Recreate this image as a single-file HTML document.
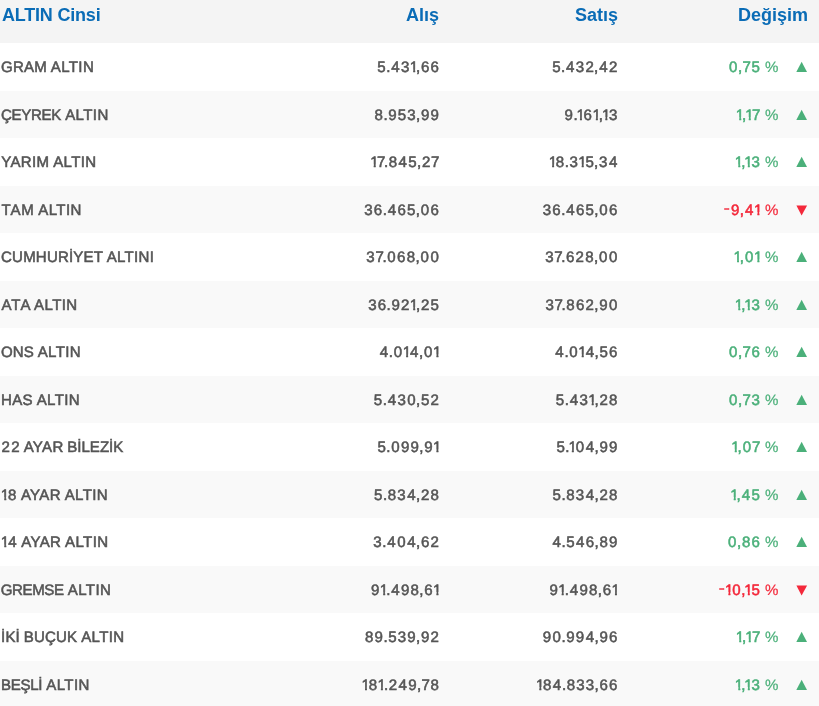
<!DOCTYPE html>
<html><head><meta charset="utf-8"><title>Altın Fiyatları</title><style>
html,body{margin:0;padding:0;}
body{will-change:transform;width:819px;height:706px;overflow:hidden;background:#fff;position:relative;font-family:"Liberation Sans",sans-serif;}
i,b{font-style:normal;font-weight:normal;}
.hd{position:absolute;left:0;top:0;width:819px;height:43px;background:#f4f4f4;color:#0a6cb6;font-size:18px;font-weight:bold;line-height:43px;}
.hd span{position:absolute;top:-6px;white-space:nowrap;}
.r{text-rendering:geometricPrecision;position:absolute;left:0;width:819px;height:47.5px;color:#555;-webkit-text-stroke:0.55px currentColor;font-size:15.05px;line-height:47.5px;background:#fff;}
.r.g{background:#f9f9f9;}
.r span{position:absolute;top:1px;white-space:nowrap;}
.c1{left:1px;}
.c1 b{display:inline-block;white-space:pre;}
.n{letter-spacing:1.2px;}
.d0{margin-left:0.16px;letter-spacing:1.36px;}
.d1{margin-left:-0.78px;letter-spacing:-1.25px;}
.d4{margin-left:0.28px;letter-spacing:1.34px;}
.d7{margin-left:-0.47px;letter-spacing:0.73px;}
.pt{margin-left:-0.68px;letter-spacing:0.57px;}
.cm{margin-left:-0.87px;letter-spacing:0.76px;}
.mn{margin-left:0.38px;letter-spacing:1.58px;}
.pc{margin-left:0.24px;letter-spacing:1.44px;}
.sp{margin-left:0.00px;letter-spacing:-0.40px;}
.d1k{margin-left:-1.73px;letter-spacing:-1.25px;}
.d7k{margin-left:-0.47px;letter-spacing:-0.72px;}
.d1,.d1k{display:inline-block;text-indent:0;clip-path:polygon(-3px 0,12px 0,12px 25.6px,5.44px 25.6px,5.44px 40px,3.48px 40px,3.48px 25.6px,-3px 25.6px);}
.mn{display:inline-block;text-indent:0;-webkit-text-stroke-width:0.4px;transform:translate(0.4px,-1.8px) scaleX(1.2);}
.pc{-webkit-text-stroke-width:0.2px;}
.c2{right:378.9px;}
.c3{right:200.4px;}
.c4{right:39.1px;}
.hd .c1{left:2px;letter-spacing:-0.2px;}
.hd .c2{right:380px;}
.hd .c3{right:201px;}
.hd .c4{right:11px;}
.r .c5{left:796px;top:0;width:12px;height:47.5px;}
.up{color:#4bb07a;}
.dn{color:#f4293b;}
.t{display:block;position:absolute;left:0;top:18px;fill:currentColor;}

</style></head><body>
<div class="hd"><span class="c1">ALTIN Cinsi</span><span class="c2">Alış</span><span class="c3">Satış</span><span class="c4">Değişim</span></div>
<div class="r" style="top:43.0px"><span class="c1"><b style="width:49.55px;letter-spacing:0.16px;text-indent:0.08px">GRAM </b><b style="letter-spacing:0.38px;text-indent:0.19px">ALTIN</b></span><span class="c2 n">5<i class="pt">.</i><i class="d4">4</i>3<i class="d1">1</i><i class="cm">,</i>66</span><span class="c3 n">5<i class="pt">.</i><i class="d4">4</i>32<i class="cm">,</i><i class="d4">4</i>2</span><span class="c4 n up"><i class="d0">0</i><i class="cm">,</i><i class="d7">7</i>5<i class="sp"> </i><i class="pc">%</i></span><span class="c5 up"><svg class="t" width="12" height="12" viewBox="0 0 12 12"><path d="M0.3 11 L11 11 L5.65 0.8 Z"/></svg></span></div>
<div class="r g" style="top:90.5px"><span class="c1"><b style="width:64.02px;letter-spacing:-0.27px;text-indent:-0.14px">ÇEYREK </b><b style="letter-spacing:0.38px;text-indent:0.19px">ALTIN</b></span><span class="c2 n">8<i class="pt">.</i>953<i class="cm">,</i>99</span><span class="c3 n">9<i class="pt">.</i><i class="d1k">1</i>6<i class="d1">1</i><i class="cm">,</i><i class="d1k">1</i>3</span><span class="c4 n up"><i class="d1">1</i><i class="cm">,</i><i class="d1k">1</i><i class="d7">7</i><i class="sp"> </i><i class="pc">%</i></span><span class="c5 up"><svg class="t" width="12" height="12" viewBox="0 0 12 12"><path d="M0.3 11 L11 11 L5.65 0.8 Z"/></svg></span></div>
<div class="r" style="top:138.0px"><span class="c1"><b style="width:52.00px;letter-spacing:0.34px;text-indent:0.17px">YARIM </b><b style="letter-spacing:0.38px;text-indent:0.19px">ALTIN</b></span><span class="c2 n"><i class="d1">1</i><i class="d7k">7</i><i class="pt">.</i>8<i class="d4">4</i>5<i class="cm">,</i>2<i class="d7">7</i></span><span class="c3 n"><i class="d1">1</i>8<i class="pt">.</i>3<i class="d1">1</i>5<i class="cm">,</i>3<i class="d4">4</i></span><span class="c4 n up"><i class="d1">1</i><i class="cm">,</i><i class="d1k">1</i>3<i class="sp"> </i><i class="pc">%</i></span><span class="c5 up"><svg class="t" width="12" height="12" viewBox="0 0 12 12"><path d="M0.3 11 L11 11 L5.65 0.8 Z"/></svg></span></div>
<div class="r g" style="top:185.5px"><span class="c1"><b style="width:37.11px;letter-spacing:0.90px;text-indent:0.45px">TAM </b><b style="letter-spacing:0.38px;text-indent:0.19px">ALTIN</b></span><span class="c2 n">36<i class="pt">.</i><i class="d4">4</i>65<i class="cm">,</i><i class="d0">0</i>6</span><span class="c3 n">36<i class="pt">.</i><i class="d4">4</i>65<i class="cm">,</i><i class="d0">0</i>6</span><span class="c4 n dn"><i class="mn">-</i>9<i class="cm">,</i><i class="d4">4</i><i class="d1">1</i><i class="sp"> </i><i class="pc">%</i></span><span class="c5 dn"><svg class="t" width="12" height="12" viewBox="0 0 12 12"><path d="M0.4 1.5 L11.1 1.5 L5.6 11.5 Z"/></svg></span></div>
<div class="r" style="top:233.0px"><span class="c1"><b style="width:105.55px;letter-spacing:0.17px;text-indent:0.09px">CUMHURİYET </b><b style="letter-spacing:0.31px;text-indent:0.16px">ALTINI</b></span><span class="c2 n">3<i class="d7k">7</i><i class="pt">.</i><i class="d0">0</i>68<i class="cm">,</i><i class="d0">0</i><i class="d0">0</i></span><span class="c3 n">3<i class="d7k">7</i><i class="pt">.</i>628<i class="cm">,</i><i class="d0">0</i><i class="d0">0</i></span><span class="c4 n up"><i class="d1">1</i><i class="cm">,</i><i class="d0">0</i><i class="d1">1</i><i class="sp"> </i><i class="pc">%</i></span><span class="c5 up"><svg class="t" width="12" height="12" viewBox="0 0 12 12"><path d="M0.3 11 L11 11 L5.65 0.8 Z"/></svg></span></div>
<div class="r g" style="top:280.5px"><span class="c1"><b style="width:32.88px;letter-spacing:0.97px;text-indent:0.48px">ATA </b><b style="letter-spacing:0.39px;text-indent:0.19px">ALTIN</b></span><span class="c2 n">36<i class="pt">.</i>92<i class="d1">1</i><i class="cm">,</i>25</span><span class="c3 n">3<i class="d7k">7</i><i class="pt">.</i>862<i class="cm">,</i>9<i class="d0">0</i></span><span class="c4 n up"><i class="d1">1</i><i class="cm">,</i><i class="d1k">1</i>3<i class="sp"> </i><i class="pc">%</i></span><span class="c5 up"><svg class="t" width="12" height="12" viewBox="0 0 12 12"><path d="M0.3 11 L11 11 L5.65 0.8 Z"/></svg></span></div>
<div class="r" style="top:328.0px"><span class="c1"><b style="width:36.44px;letter-spacing:0.03px;text-indent:0.01px">ONS </b><b style="letter-spacing:0.39px;text-indent:0.19px">ALTIN</b></span><span class="c2 n"><i class="d4">4</i><i class="pt">.</i><i class="d0">0</i><i class="d1">1</i><i class="d4">4</i><i class="cm">,</i><i class="d0">0</i><i class="d1">1</i></span><span class="c3 n"><i class="d4">4</i><i class="pt">.</i><i class="d0">0</i><i class="d1">1</i><i class="d4">4</i><i class="cm">,</i>56</span><span class="c4 n up"><i class="d0">0</i><i class="cm">,</i><i class="d7">7</i>6<i class="sp"> </i><i class="pc">%</i></span><span class="c5 up"><svg class="t" width="12" height="12" viewBox="0 0 12 12"><path d="M0.3 11 L11 11 L5.65 0.8 Z"/></svg></span></div>
<div class="r g" style="top:375.5px"><span class="c1"><b style="width:35.47px;letter-spacing:0.25px;text-indent:0.12px">HAS </b><b style="letter-spacing:0.38px;text-indent:0.19px">ALTIN</b></span><span class="c2 n">5<i class="pt">.</i><i class="d4">4</i>3<i class="d0">0</i><i class="cm">,</i>52</span><span class="c3 n">5<i class="pt">.</i><i class="d4">4</i>3<i class="d1">1</i><i class="cm">,</i>28</span><span class="c4 n up"><i class="d0">0</i><i class="cm">,</i><i class="d7">7</i>3<i class="sp"> </i><i class="pc">%</i></span><span class="c5 up"><svg class="t" width="12" height="12" viewBox="0 0 12 12"><path d="M0.3 11 L11 11 L5.65 0.8 Z"/></svg></span></div>
<div class="r" style="top:423.0px"><span class="c1"><b style="width:22.47px;text-indent:0.60px"><i class="n">22</i> </b><b style="width:43.77px;letter-spacing:0.31px;text-indent:0.16px">AYAR </b><b style="letter-spacing:0.01px;text-indent:0.00px">BİLEZİK</b></span><span class="c2 n">5<i class="pt">.</i><i class="d0">0</i>99<i class="cm">,</i>9<i class="d1">1</i></span><span class="c3 n">5<i class="pt">.</i><i class="d1k">1</i><i class="d0">0</i><i class="d4">4</i><i class="cm">,</i>99</span><span class="c4 n up"><i class="d1">1</i><i class="cm">,</i><i class="d0">0</i><i class="d7">7</i><i class="sp"> </i><i class="pc">%</i></span><span class="c5 up"><svg class="t" width="12" height="12" viewBox="0 0 12 12"><path d="M0.3 11 L11 11 L5.65 0.8 Z"/></svg></span></div>
<div class="r g" style="top:470.5px"><span class="c1"><b style="width:19.72px;text-indent:0.60px"><i class="n"><i class="d1">1</i>8</i> </b><b style="width:43.78px;letter-spacing:0.32px;text-indent:0.16px">AYAR </b><b style="letter-spacing:0.38px;text-indent:0.19px">ALTIN</b></span><span class="c2 n">5<i class="pt">.</i>83<i class="d4">4</i><i class="cm">,</i>28</span><span class="c3 n">5<i class="pt">.</i>83<i class="d4">4</i><i class="cm">,</i>28</span><span class="c4 n up"><i class="d1">1</i><i class="cm">,</i><i class="d4">4</i>5<i class="sp"> </i><i class="pc">%</i></span><span class="c5 up"><svg class="t" width="12" height="12" viewBox="0 0 12 12"><path d="M0.3 11 L11 11 L5.65 0.8 Z"/></svg></span></div>
<div class="r" style="top:518.0px"><span class="c1"><b style="width:20.11px;text-indent:0.60px"><i class="n"><i class="d1">1</i><i class="d4">4</i></i> </b><b style="width:43.77px;letter-spacing:0.32px;text-indent:0.16px">AYAR </b><b style="letter-spacing:0.38px;text-indent:0.19px">ALTIN</b></span><span class="c2 n">3<i class="pt">.</i><i class="d4">4</i><i class="d0">0</i><i class="d4">4</i><i class="cm">,</i>62</span><span class="c3 n"><i class="d4">4</i><i class="pt">.</i>5<i class="d4">4</i>6<i class="cm">,</i>89</span><span class="c4 n up"><i class="d0">0</i><i class="cm">,</i>86<i class="sp"> </i><i class="pc">%</i></span><span class="c5 up"><svg class="t" width="12" height="12" viewBox="0 0 12 12"><path d="M0.3 11 L11 11 L5.65 0.8 Z"/></svg></span></div>
<div class="r g" style="top:565.5px"><span class="c1"><b style="width:66.55px;letter-spacing:-0.41px;text-indent:-0.20px">GREMSE </b><b style="letter-spacing:0.39px;text-indent:0.19px">ALTIN</b></span><span class="c2 n">9<i class="d1">1</i><i class="pt">.</i><i class="d4">4</i>98<i class="cm">,</i>6<i class="d1">1</i></span><span class="c3 n">9<i class="d1">1</i><i class="pt">.</i><i class="d4">4</i>98<i class="cm">,</i>6<i class="d1">1</i></span><span class="c4 n dn"><i class="mn">-</i><i class="d1">1</i><i class="d0">0</i><i class="cm">,</i><i class="d1k">1</i>5<i class="sp"> </i><i class="pc">%</i></span><span class="c5 dn"><svg class="t" width="12" height="12" viewBox="0 0 12 12"><path d="M0.4 1.5 L11.1 1.5 L5.6 11.5 Z"/></svg></span></div>
<div class="r" style="top:613.0px"><span class="c1"><b style="width:22.62px;letter-spacing:0.15px;text-indent:0.08px">İKİ </b><b style="width:57.34px;letter-spacing:0.18px;text-indent:0.09px">BUÇUK </b><b style="letter-spacing:0.38px;text-indent:0.19px">ALTIN</b></span><span class="c2 n">89<i class="pt">.</i>539<i class="cm">,</i>92</span><span class="c3 n">9<i class="d0">0</i><i class="pt">.</i>99<i class="d4">4</i><i class="cm">,</i>96</span><span class="c4 n up"><i class="d1">1</i><i class="cm">,</i><i class="d1k">1</i><i class="d7">7</i><i class="sp"> </i><i class="pc">%</i></span><span class="c5 up"><svg class="t" width="12" height="12" viewBox="0 0 12 12"><path d="M0.3 11 L11 11 L5.65 0.8 Z"/></svg></span></div>
<div class="r g" style="top:660.5px"><span class="c1"><b style="width:45.12px;letter-spacing:-0.26px;text-indent:-0.13px">BEŞLİ </b><b style="letter-spacing:0.38px;text-indent:0.19px">ALTIN</b></span><span class="c2 n"><i class="d1">1</i>8<i class="d1">1</i><i class="pt">.</i>2<i class="d4">4</i>9<i class="cm">,</i><i class="d7">7</i>8</span><span class="c3 n"><i class="d1">1</i>8<i class="d4">4</i><i class="pt">.</i>833<i class="cm">,</i>66</span><span class="c4 n up"><i class="d1">1</i><i class="cm">,</i><i class="d1k">1</i>3<i class="sp"> </i><i class="pc">%</i></span><span class="c5 up"><svg class="t" width="12" height="12" viewBox="0 0 12 12"><path d="M0.3 11 L11 11 L5.65 0.8 Z"/></svg></span></div>
</body></html>
